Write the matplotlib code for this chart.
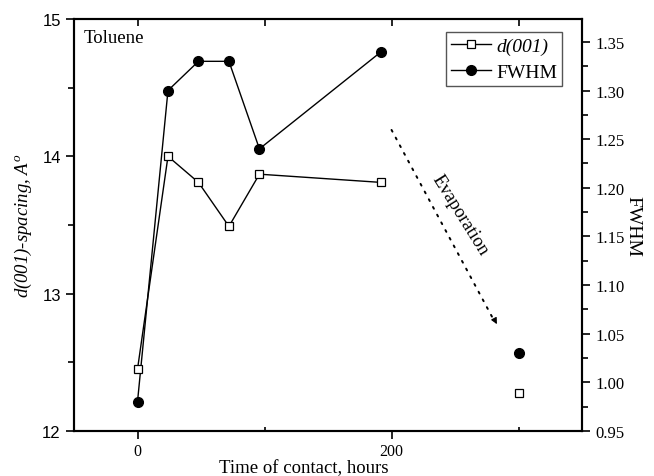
import matplotlib.pyplot as plt
from matplotlib.ticker import MultipleLocator

# data
time_h = [0, 24, 48, 72, 96, 192]
d001 = [12.45, 14.00, 13.81, 13.49, 13.87, 13.81]
fwhm = [0.98, 1.30, 1.33, 1.33, 1.24, 1.34]

# after evaporation (not joined to the rest)
time_evap = [300]
d001_evap = [12.28]
fwhm_evap = [1.03]

serif = 'Liberation Serif'
sans = 'Liberation Sans'
plt.rcParams['mathtext.fontset'] = 'custom'
plt.rcParams['mathtext.rm'] = 'Liberation Serif'
plt.rcParams['mathtext.it'] = 'Liberation Serif:italic'

fig = plt.figure(figsize=(6.54, 4.77), dpi=100)
ax = fig.add_axes([74 / 654, 45 / 477, 508 / 654, 412 / 477])
ax2 = ax.twinx()

l1, = ax.plot(time_h, d001, color='black', lw=1, marker='s', ms=5.2,
              mfc='white', mec='black', mew=0.9, zorder=3)
ax.plot(time_evap, d001_evap, ls='none', marker='s', ms=5.2,
        mfc='white', mec='black', mew=0.9)
l2, = ax2.plot(time_h, fwhm, color='black', lw=1, marker='o', ms=7,
               mfc='black', mec='black', zorder=3)
ax2.plot(time_evap, fwhm_evap, ls='none', marker='o', ms=7,
         mfc='black', mec='black')

ax.set_xlim(-50, 350)
ax.set_ylim(12, 15)
ax2.set_ylim(0.95, 1.3735)

ax.xaxis.set_major_locator(MultipleLocator(200))
ax.xaxis.set_minor_locator(MultipleLocator(100))
ax.yaxis.set_major_locator(MultipleLocator(1))
ax.yaxis.set_minor_locator(MultipleLocator(0.5))
ax2.yaxis.set_major_locator(MultipleLocator(0.05))
ax2.yaxis.set_minor_locator(MultipleLocator(0.025))

ax.tick_params(axis='x', which='major', direction='out', length=6, width=1.2,
               labelsize=11.5, pad=3)
ax.tick_params(axis='x', which='minor', direction='in', length=3, width=1.2)
ax.tick_params(axis='y', which='major', direction='out', length=6, width=1.2,
               labelsize=12)
ax.tick_params(axis='y', which='minor', direction='out', length=4, width=1.2)
ax2.tick_params(axis='y', which='major', direction='out', length=6, width=1.2,
                labelsize=12)
ax2.tick_params(axis='y', which='minor', direction='out', length=4, width=1.2)

# top axis: inward ticks only, drawn from the twin's x axis
ax2.xaxis.set_visible(True)
ax2.tick_params(axis='x', which='both', bottom=False, labelbottom=False,
                top=True, labeltop=False, direction='in', length=5, width=1.2)

for lab in ax.get_xticklabels():
    lab.set_fontfamily(serif)
for lab in ax.get_yticklabels():
    lab.set_fontfamily(sans)
for lab in ax2.get_yticklabels():
    lab.set_fontfamily(serif)

for a in (ax, ax2):
    for s in a.spines.values():
        s.set_linewidth(1.5)

ax.set_xlabel('Time of contact, hours', fontfamily=serif, fontsize=13.5)
ax.xaxis.label.set_va('baseline')
ax.xaxis.set_label_coords(0.452, -0.0995)
ax.set_ylabel(r'd(001)-spacing, $A^o$', fontfamily=serif, fontstyle='italic',
              fontsize=13.5, labelpad=6)
ax2.set_ylabel('FWHM', fontfamily=serif, fontsize=14, rotation=-90, labelpad=12)

ax.text(0.018, 0.975, 'Toluene', transform=ax.transAxes, fontfamily=serif,
        fontsize=13.5, va='top', ha='left')

# evaporation arrow
ax.annotate('', xy=(281, 12.8), xytext=(199, 14.21),
            arrowprops=dict(arrowstyle='-', ls=(0, (1, 3.5)), lw=1.4, color='black'))
ax.annotate('', xy=(284, 12.76), xytext=(280, 12.83),
            arrowprops=dict(arrowstyle='-|>', lw=0.8, color='black',
                            mutation_scale=9))
ax.text(254, 13.58, 'Evaporation', fontfamily=serif, fontsize=13.5,
        rotation=-58, ha='center', va='center', rotation_mode='anchor')

leg = ax.legend([l1, l2], ['d(001)', 'FWHM'], loc='upper right',
                bbox_to_anchor=(0.961, 0.968), fancybox=False,
                edgecolor='#555555', framealpha=1, handlelength=2.1,
                borderpad=0.25, labelspacing=0.45, handletextpad=0.25,
                borderaxespad=0, prop={'family': serif, 'size': 14})
leg.get_frame().set_linewidth(1)
leg.get_texts()[0].set_fontstyle('italic')
ax.set_zorder(ax2.get_zorder() + 1)
ax.patch.set_visible(False)

fig.savefig('out.png', dpi=100)
